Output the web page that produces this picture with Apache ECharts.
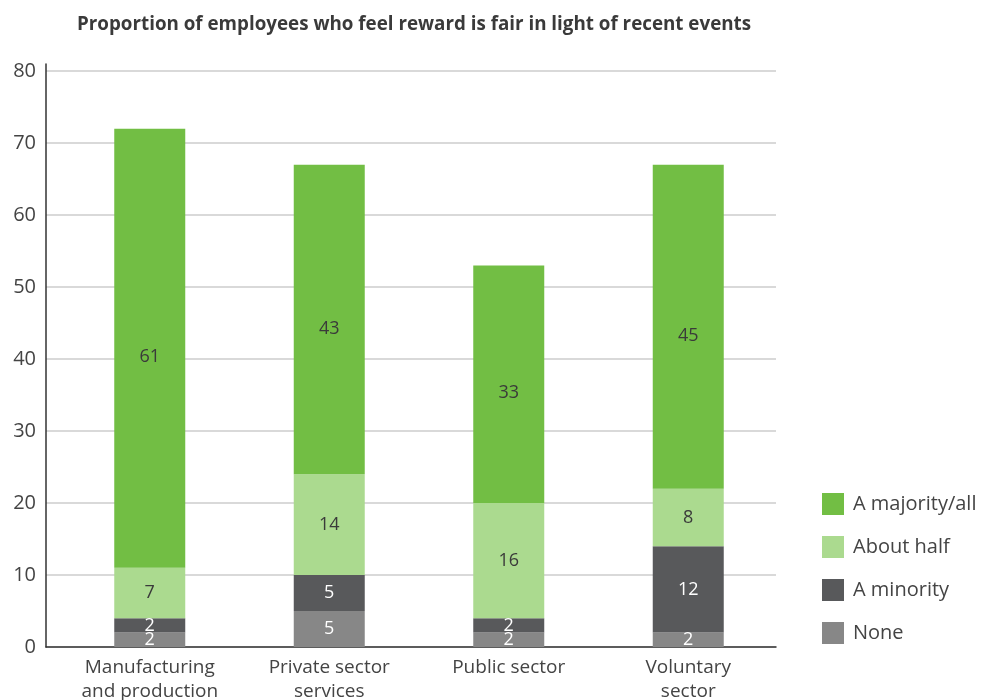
<!DOCTYPE html>
<html>
<head>
<meta charset="utf-8">
<script src="https://cdn.jsdelivr.net/npm/echarts@6/dist/echarts.min.js"></script>
<style>
  html, body { margin: 0; padding: 0; background: #ffffff; }
  #chart { width: 982px; height: 700px; }
</style>
</head>
<body>
<div id="chart"></div>
<script>
// Sectors along the x axis
const sectors = ['Manufacturing\nand production', 'Private sector\nservices', 'Public sector', 'Voluntary\nsector'];

// Share of employees (%) by how many feel reward is fair
const none = [2, 5, 2, 2];
const minority = [2, 5, 2, 12];
const aboutHalf = [7, 14, 16, 8];
const majority = [61, 43, 33, 45];

const seriesNames = ['None', 'A minority', 'About half', 'A majority/all'];
const legendOrder = ['A majority/all', 'About half', 'A minority', 'None'];
const colors = ['#878787', '#58595b', '#abda8f', '#72be44'];
const labelColors = ['#ffffff', '#ffffff', '#3a3a3a', '#3a3a3a'];
const labelOffsets = [[0, 0], [0, 0], [0, 0], [0, 9]];
const values = [none, minority, aboutHalf, majority];

const titleFont = '"Liberation Sans Narrow", "Open Sans", sans-serif';
const bodyFont = '"Open Sans", "Noto Sans", sans-serif';

const yMax = 81;

const chart = echarts.init(document.getElementById('chart'));

chart.setOption({
  animation: false,
  title: {
    text: 'Proportion of employees who feel reward is fair in light of recent events',
    left: 72,
    top: 10,
    textStyle: { fontFamily: titleFont, fontWeight: 'bold', fontSize: 18.8, color: '#3a3a3a' }
  },
  legend: {
    orient: 'vertical',
    left: 817,
    top: 488,
    itemWidth: 22,
    itemHeight: 22,
    itemGap: 21,
    icon: 'rect',
    data: legendOrder,
    textStyle: { fontFamily: bodyFont, fontSize: 20, color: '#444444', padding: [0, 0, 0, 4] }
  },
  grid: [
    // bars
    { left: 60, right: 204, top: 64, bottom: 53, outerBoundsMode: 'none', containLabel: false },
    // axis frame and gridlines
    { left: 46, right: 206, top: 64, bottom: 53, outerBoundsMode: 'none', containLabel: false }
  ],
  xAxis: [
    {
      type: 'category',
      gridIndex: 0,
      data: sectors,
      axisLine: { show: false },
      axisTick: { show: false },
      axisLabel: { fontFamily: bodyFont, fontSize: 19, color: '#444444', lineHeight: 24, margin: 9, interval: 0 }
    },
    {
      type: 'value',
      gridIndex: 1,
      min: 0,
      max: 1,
      axisLine: { show: true, onZero: false, lineStyle: { color: '#333333', width: 1.5 } },
      axisTick: { show: false },
      axisLabel: { show: false },
      splitLine: { show: false }
    }
  ],
  yAxis: [
    {
      type: 'value',
      gridIndex: 0,
      min: 0,
      max: yMax,
      interval: 10,
      axisLine: { show: false },
      axisTick: { show: false },
      axisLabel: { show: false },
      splitLine: { show: false }
    },
    {
      type: 'value',
      gridIndex: 1,
      min: 0,
      max: yMax,
      interval: 10,
      axisLine: { show: true, onZero: false, lineStyle: { color: '#333333', width: 1.5 } },
      axisTick: { show: false },
      axisLabel: { showMaxLabel: false, fontFamily: bodyFont, fontSize: 20, color: '#444444', margin: 10 },
      splitLine: { showMaxLine: false, lineStyle: { color: '#cccccc', width: 1.5 } }
    }
  ],
  series: seriesNames.map((name, i) => ({
    name: name,
    type: 'bar',
    stack: 'total',
    xAxisIndex: 0,
    yAxisIndex: 0,
    barWidth: 71,
    z: 3,
    data: values[i],
    itemStyle: { color: colors[i] },
    label: {
      show: true,
      position: 'inside',
      offset: labelOffsets[i],
      fontFamily: bodyFont,
      fontSize: 18,
      color: labelColors[i]
    }
  }))
});
</script>
</body>
</html>
